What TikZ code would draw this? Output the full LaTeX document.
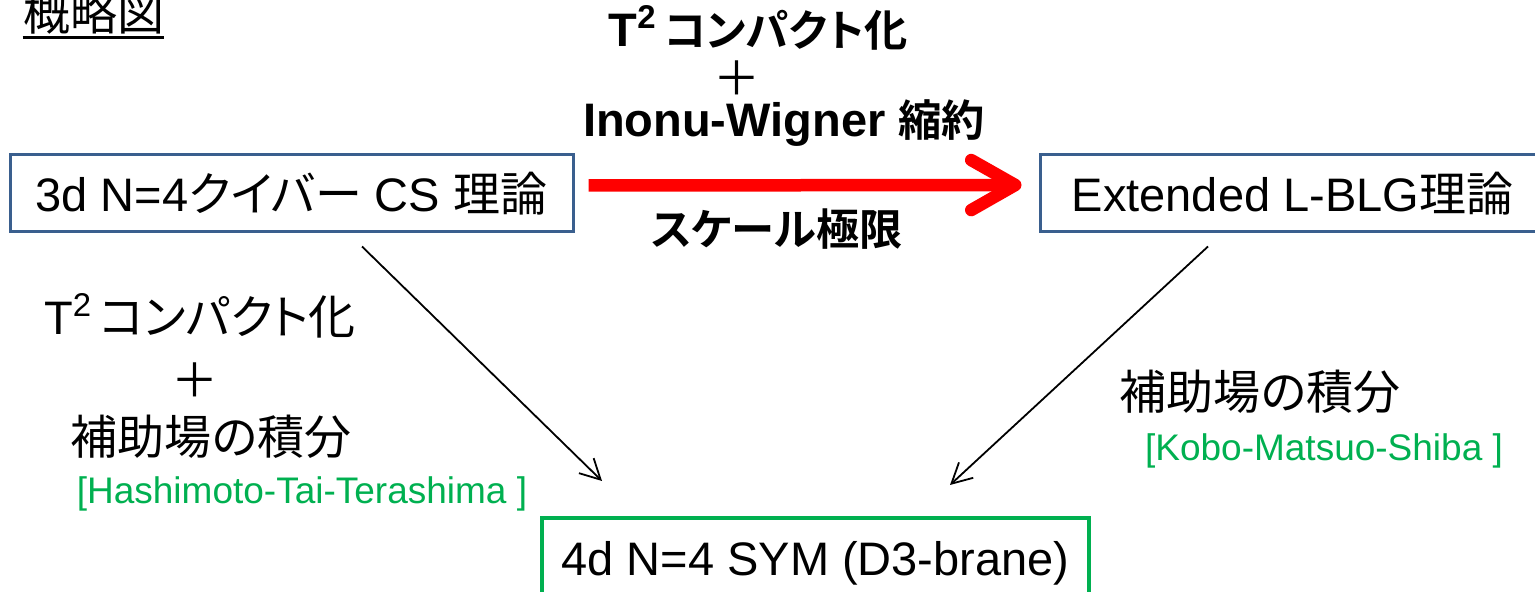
\documentclass[tikz,border=0pt]{standalone}
\usepackage{fontspec}
\setmainfont{Liberation Sans}
\newfontfamily\cjk[RawFeature=+palt, BoldFont={Noto Sans CJK JP Bold},
  BoldFeatures={Scale=0.92}]{Noto Sans CJK JP}
\newcommand\J[1]{{\cjk #1}}
\usetikzlibrary{arrows.meta,calc}
\definecolor{boxblue}{HTML}{3A5F8E}
\definecolor{refgreen}{HTML}{00B050}
\definecolor{limitred}{HTML}{FF0000}

\begin{document}
\begin{tikzpicture}[x=0.5pt,y=-0.5pt,
  big/.style={font=\fontsize{23.5pt}{28pt}\selectfont},
  bigbold/.style={font=\fontsize{23.5pt}{28pt}\selectfont\bfseries},
  txt/.style={anchor=base, inner sep=0pt},
  refnote/.style={txt, font=\fontsize{18.5pt}{22pt}\selectfont, text=refgreen},
  theory/.style={big, draw=boxblue, line width=1.5pt, inner sep=0pt,
    text height=20pt, text depth=1.5pt, minimum height=38.5pt},
  result/.style={big, draw=refgreen, line width=2pt, inner sep=0pt,
    text height=20pt, text depth=4pt, minimum height=41pt},
  thin/.style={line width=0.9pt, -{Straight Barb[length=10pt,width=10.5pt]}},
]
\useasboundingbox (0,0) rectangle (1535,592);

% title
\node[txt,big] (title) at (93.5,31) {\J{概略図}};
\draw[line width=1.5pt] ($(title.base west)+(0,7)$) -- ($(title.base east)+(0,7)$);

% theories
\node[theory, minimum width=281.5pt] (b1) at (291.5,193.5) {3d N=4\J{クイバー} CS \J{理論}};
\node[theory, minimum width=252.5pt] (b2) at (1292.5,193.5) {Extended L-BLG\J{理論}};
\node[result, minimum width=273.5pt] (b3) at (815.5,559) {4d N=4 SYM (D3-brane)};

% labels of the upper arrow
\node[txt,bigbold] (top1) at (758,47) {T\textsuperscript{2}\,\J{コンパクト化}};
\node[txt,big] (top2) at (737,96) {\J{＋}};
\node[txt,bigbold] (top3) at (784,137) {Inonu-Wigner \J{縮約}};
\node[txt,bigbold] (lim) at (777,246) {\J{スケール極限}};

% labels of the left arrow
\node[txt,big] (l1) at (200,335) {T\textsuperscript{2}\,\J{コンパクト化}};
\node[txt,big] (l2) at (195,398) {\J{＋}};
\node[txt,big] (l3) at (211,455) {\J{補助場の積分}};
\node[refnote] (l4) at (302,503) {[Hashimoto-Tai-Terashima ]};

% labels of the right arrow
\node[txt,big] (r1) at (1260,410) {\J{補助場の積分}};
\node[refnote] (r2) at (1324,460) {[Kobo-Matsuo-Shiba ]};

% arrows
\draw[limitred, line width=6.25pt, -{Straight Barb[length=22pt,width=25pt,round]}]
  ($(b1.east)+(14,-8)$) -- ($(b2.west)+(-17,-8.5)$);
\draw[thin] ($(b1.south)+(70.5,13)$) -- ($(b3.north)+(-213.5,-35)$);
\draw[thin] ($(b2.south)+(-84.5,13)$) -- ($(b3.north)+(134.5,-31)$);
\end{tikzpicture}
\end{document}
